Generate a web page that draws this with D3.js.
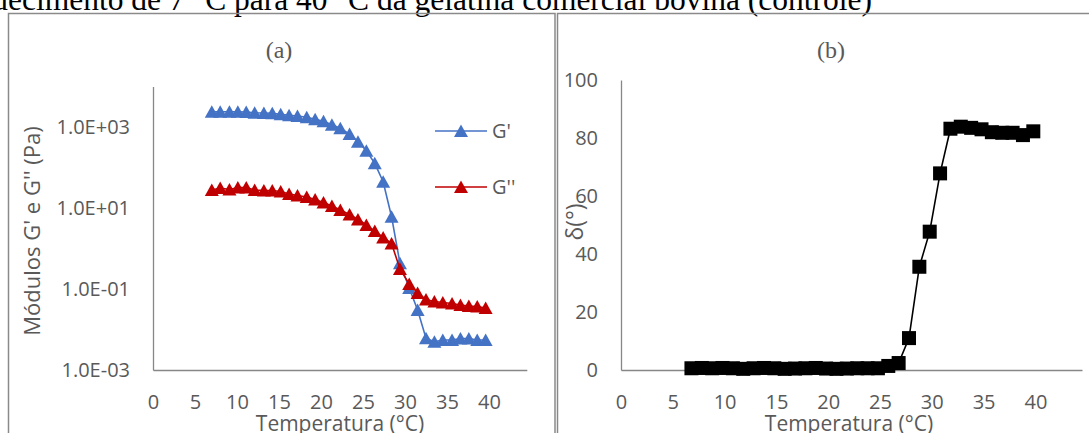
<!DOCTYPE html>
<html>
<head>
<meta charset="utf-8">
<script src="https://cdn.jsdelivr.net/npm/d3@7"></script>
<style>
  body { margin: 0; background: #fff; }
  text { font-family: "Open Sans", sans-serif; }
</style>
</head>
<body>
<svg width="1089" height="433"></svg>
<script>
// temperatures (°C) and moduli for panel (a)
var tempA = [7.0, 8.0, 9.1, 10.1, 11.1, 12.1, 13.2, 14.2, 15.2, 16.2, 17.2, 18.3, 19.3, 20.3, 21.3, 22.3,
    23.4, 24.4, 25.4, 26.4, 27.4, 28.4, 29.4, 30.5, 31.5, 32.5, 33.5, 34.5, 35.6, 36.6, 37.6, 38.6, 39.6];
var gPrime = [2390, 2390, 2390, 2390, 2345, 2254, 2217, 2178, 2060, 1946, 1871, 1738, 1551, 1384, 1141, 929,
    671, 434, 260, 127, 44.6, 6.1, 0.43, 0.106, 0.0303, 0.0061, 0.0050, 0.0055, 0.0055, 0.0060, 0.0060, 0.0055, 0.0055];
var gDouble = [27.8, 31.2, 28.6, 32.1, 32.1, 27.8, 27.0, 27.0, 25.5, 22.2, 20.4, 18.7, 16.2, 13.7, 11.2, 8.93,
    6.92, 5.20, 3.80, 2.70, 1.87, 1.33, 0.312, 0.133, 0.0796, 0.0551, 0.0491, 0.0464, 0.0439, 0.0403, 0.0380, 0.0370, 0.0340];

// phase angle for panel (b)
var tempB = [6.8, 7.8, 8.8, 9.8, 10.8, 11.8, 12.8, 13.8, 14.8, 15.8, 16.8, 17.8, 18.8, 19.8, 20.8, 21.8, 22.8,
    23.8, 24.8, 25.8, 26.8, 27.8, 28.8, 29.8, 30.8, 31.8, 32.8, 33.8, 34.8, 35.8, 36.8, 37.8, 38.8, 39.8];
var delta = [0.6, 0.7, 0.6, 0.7, 0.6, 0.4, 0.6, 0.7, 0.6, 0.4, 0.5, 0.6, 0.7, 0.5, 0.4, 0.5, 0.6,
    0.6, 0.6, 1.4, 2.4, 11.0, 35.6, 47.7, 67.8, 83.2, 83.9, 83.5, 83.0, 82.0, 81.8, 81.8, 81.0, 82.3];

var xTicks = [0, 5, 10, 15, 20, 25, 30, 35, 40];
var yTicksA = [1e-3, 1e-1, 1e1, 1e3];
var yTicksB = [0, 20, 40, 60, 80, 100];
var seriesNames = ["G'", "G''"];

var grey = "#595959", axisCol = "#878787";
var svg = d3.select("svg");
svg.append("rect").attr("width", 1089).attr("height", 433).attr("fill", "#fff");

// caption line running above both charts
svg.append("text")
    .attr("x", 872).attr("y", 9.5)
    .attr("text-anchor", "end")
    .style("font-family", "'Liberation Serif', 'Times New Roman', serif")
    .style("font-size", "31.5px")
    .attr("fill", "#000")
    .text("aquecimento de 7 °C para 40 °C da gelatina comercial bovina (controle)");

// chart frames
svg.append("rect").attr("x", 8.5).attr("y", 13.5).attr("width", 546.5).attr("height", 440)
    .attr("fill", "none").attr("stroke", "#8a8a8a").attr("stroke-width", 1.5);
svg.append("rect").attr("x", 557.5).attr("y", 13.5).attr("width", 560).attr("height", 440)
    .attr("fill", "none").attr("stroke", "#8a8a8a").attr("stroke-width", 1.5);

var tri = "M0,-6.5L7,6L-7,6Z";

// ---------- panel (a) ----------
var xA = d3.scaleLinear().domain([0, 44.5]).range([153, 526.8]);
var yA = d3.scaleLog().domain([1e-3, 1e4]).range([370, 86.5]);

function plainAxes(x, y, yTicks, fmt, labelGap) {
    var xAxis = svg.append("g").attr("transform", "translate(0,370)")
        .call(d3.axisBottom(x).tickValues(xTicks).tickSize(0).tickPadding(33).tickFormat(d3.format("d")));
    var yAxis = svg.append("g").attr("transform", "translate(" + x.range()[0] + ",0)")
        .call(d3.axisLeft(y).tickValues(yTicks).tickSize(0).tickPadding(labelGap).tickFormat(fmt));
    [xAxis, yAxis].forEach(function(a) {
        a.select(".domain").attr("stroke", axisCol).attr("stroke-width", 1.3);
        a.selectAll("text").attr("fill", grey).style("font-size", "20px").style("font-family", "'Open Sans', sans-serif");
    });
    xAxis.selectAll("text").attr("dy", "0.32em");
}

plainAxes(xA, yA, yTicksA, function(d) {
    var e = Math.round(Math.log10(d));
    return "1.0E" + (e < 0 ? "-" : "+") + d3.format("02d")(Math.abs(e));
}, 23);

svg.append("text").attr("x", 279).attr("y", 58).attr("text-anchor", "middle")
    .style("font-family", "'Liberation Serif', serif").style("font-size", "24px").attr("fill", grey).text("(a)");
svg.append("text").attr("transform", "translate(40,231) rotate(-90)").attr("text-anchor", "middle")
    .style("font-size", "22px").attr("fill", grey).text("Módulos G' e G'' (Pa)");
svg.append("text").attr("x", 340).attr("y", 431).attr("text-anchor", "middle")
    .style("font-size", "21px").attr("fill", grey).text("Temperatura (°C)");

var seriesA = [
    { name: seriesNames[0], values: gPrime, color: "#4472C4", ly: 131 },
    { name: seriesNames[1], values: gDouble, color: "#C00000", ly: 187 }
];
var lineA = d3.line().x(function(d) { return xA(d[0]); }).y(function(d) { return yA(d[1]); });

seriesA.forEach(function(s) {
    var pts = tempA.map(function(t, i) { return [t, s.values[i]]; });
    svg.append("path").attr("d", lineA(pts)).attr("fill", "none")
        .attr("stroke", s.color).attr("stroke-width", 1.6);
    svg.selectAll(null).data(pts).enter().append("path")
        .attr("d", tri)
        .attr("transform", function(d) { return "translate(" + xA(d[0]) + "," + yA(d[1]) + ")"; })
        .attr("fill", s.color);

    // legend entry
    svg.append("line").attr("x1", 435).attr("x2", 487).attr("y1", s.ly).attr("y2", s.ly)
        .attr("stroke", s.color).attr("stroke-width", 1.6);
    svg.append("path").attr("d", tri).attr("transform", "translate(461," + s.ly + ")").attr("fill", s.color);
    svg.append("text").attr("x", 492).attr("y", s.ly).attr("dy", "0.35em")
        .style("font-size", "20px").attr("fill", grey).text(s.name);
});

// ---------- panel (b) ----------
var xB = d3.scaleLinear().domain([0, 44.5]).range([621, 1082]);
var yB = d3.scaleLinear().domain([0, 100]).range([370, 80]);

plainAxes(xB, yB, yTicksB, d3.format("d"), 23);

svg.append("text").attr("x", 831).attr("y", 58).attr("text-anchor", "middle")
    .style("font-family", "'Liberation Serif', serif").style("font-size", "24px").attr("fill", grey).text("(b)");
svg.append("text").attr("transform", "translate(583,222) rotate(-90)").attr("text-anchor", "middle")
    .style("font-size", "23px").attr("fill", grey).text("δ(°)");
svg.append("text").attr("x", 849).attr("y", 431).attr("text-anchor", "middle")
    .style("font-size", "21px").attr("fill", grey).text("Temperatura (°C)");

var ptsB = tempB.map(function(t, i) { return [t, delta[i]]; });
svg.append("path")
    .attr("d", d3.line().x(function(d) { return xB(d[0]); }).y(function(d) { return yB(d[1]); })(ptsB))
    .attr("fill", "none").attr("stroke", "#000").attr("stroke-width", 1.6);
svg.selectAll(null).data(ptsB).enter().append("rect")
    .attr("x", function(d) { return xB(d[0]) - 7; })
    .attr("y", function(d) { return yB(d[1]) - 7; })
    .attr("width", 14).attr("height", 14)
    .attr("fill", "#000");
</script>
</body>
</html>
